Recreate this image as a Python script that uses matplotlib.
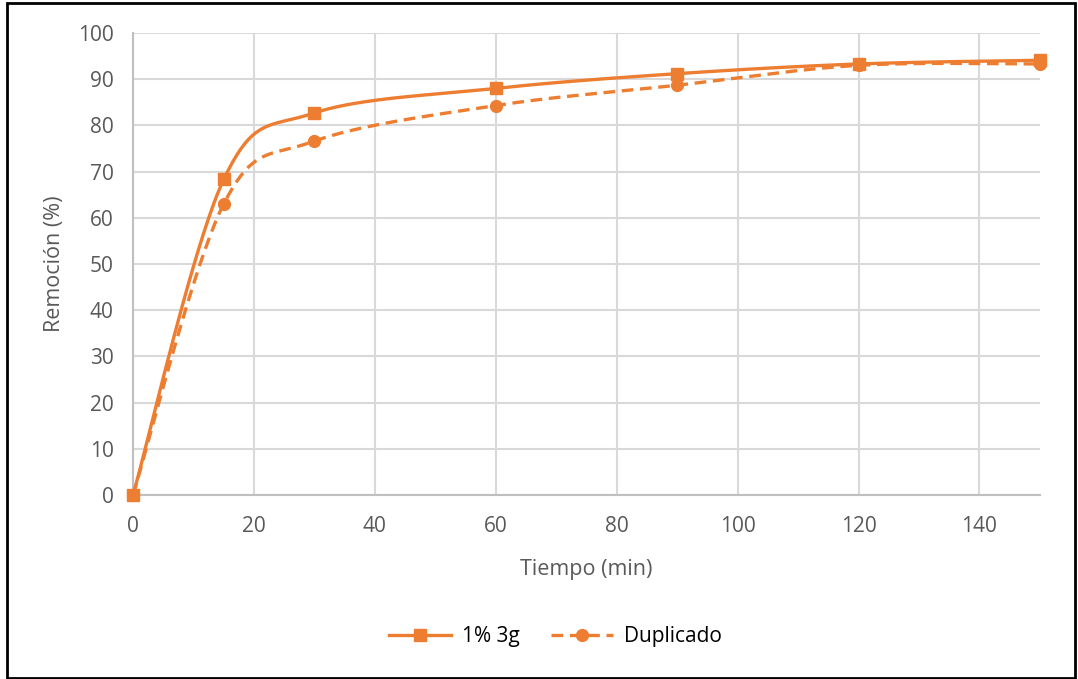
import numpy as np
import matplotlib
matplotlib.use("Agg")
import matplotlib.pyplot as plt
from matplotlib.patches import Rectangle
from matplotlib.lines import Line2D

plt.rcParams['font.family'] = ['Open Sans', 'DejaVu Sans']

tiempo = [0, 15, 30, 60, 90, 120, 150]
serie_1 = [0, 68.3, 82.7, 88.0, 91.2, 93.3, 94.1]
duplicado = [0, 63.0, 76.6, 84.3, 88.7, 93.0, 93.3]
labels = ["1% 3g", "Duplicado"]

ORANGE = "#ED7D31"
GRID = "#D9D9D9"
TEXT = "#595959"


def smooth(x, y, sx, sy, n=40):
    """Bezier smoothing in screen-proportional units (Catmull-Rom style)."""
    P = np.column_stack([np.asarray(x, float) * sx, np.asarray(y, float) * sy])
    out = []
    m = len(P)
    for i in range(m - 1):
        p0 = P[i - 1] if i > 0 else P[i]
        p1, p2 = P[i], P[i + 1]
        p3 = P[i + 2] if i + 2 < m else P[i + 1]
        c1 = p1 + (p2 - p0) / 6.0
        c2 = p2 - (p3 - p1) / 6.0
        t = np.linspace(0, 1, n)[:, None]
        seg = ((1 - t) ** 3) * p1 + 3 * ((1 - t) ** 2) * t * c1 + 3 * (1 - t) * t ** 2 * c2 + t ** 3 * p2
        out.append(seg if i == 0 else seg[1:])
    pts = np.vstack(out)
    return pts[:, 0] / sx, pts[:, 1] / sy


fig = plt.figure(figsize=(10.78, 6.79), dpi=100)
ax = fig.add_axes([0.1234, 0.271, 0.8413, 0.6804])

LW = 2.4
DASH = (0, (3.5, 2))
sx, sy = 6.05, 4.62
xs, ys = smooth(tiempo, serie_1, sx, sy)
ax.plot(xs, ys, color=ORANGE, lw=LW, zorder=3)
ax.plot(tiempo, serie_1, 's', color=ORANGE, ms=8.5, zorder=4, clip_on=False)

xd, yd = smooth(tiempo, duplicado, sx, sy)
ax.plot(xd, yd, color=ORANGE, lw=LW, ls=DASH, zorder=3)
ax.plot(tiempo, duplicado, 'o', color=ORANGE, ms=8.5, zorder=4, clip_on=False)

ax.set_xlim(0, 150)
ax.set_ylim(0, 100)
ax.set_xticks(np.arange(0, 141, 20))
ax.set_yticks(np.arange(0, 101, 10))
ax.grid(True, color=GRID, lw=1.5)
ax.set_axisbelow(True)
for s in ['top', 'right']:
    ax.spines[s].set_visible(False)
for s in ['left', 'bottom']:
    ax.spines[s].set_color("#BFBFBF")
    ax.spines[s].set_linewidth(1.5)
ax.tick_params(length=0, labelsize=15, labelcolor=TEXT)
ax.tick_params(axis='y', pad=14)
ax.tick_params(axis='x', pad=15)
ax.set_xlabel("Tiempo (min)", fontsize=15.5, color=TEXT, labelpad=16)
ax.set_ylabel("Remoción (%)", fontsize=15.5, color=TEXT, labelpad=9)

h1 = Line2D([], [], color=ORANGE, lw=LW, marker='s', ms=8.5)
h2 = Line2D([], [], color=ORANGE, lw=LW, ls=DASH, marker='o', ms=8.5)
fig.legend([h1, h2], labels, loc='center', bbox_to_anchor=(0.515, 0.062), ncol=2,
           frameon=False, fontsize=15, handlelength=3.0, columnspacing=1.5,
           handletextpad=0.5)

fig.add_artist(Rectangle((0.0065, 0.002), 0.9905, 0.993, transform=fig.transFigure,
                         fill=False, edgecolor='black', lw=2))

fig.savefig("out.png", dpi=100)
